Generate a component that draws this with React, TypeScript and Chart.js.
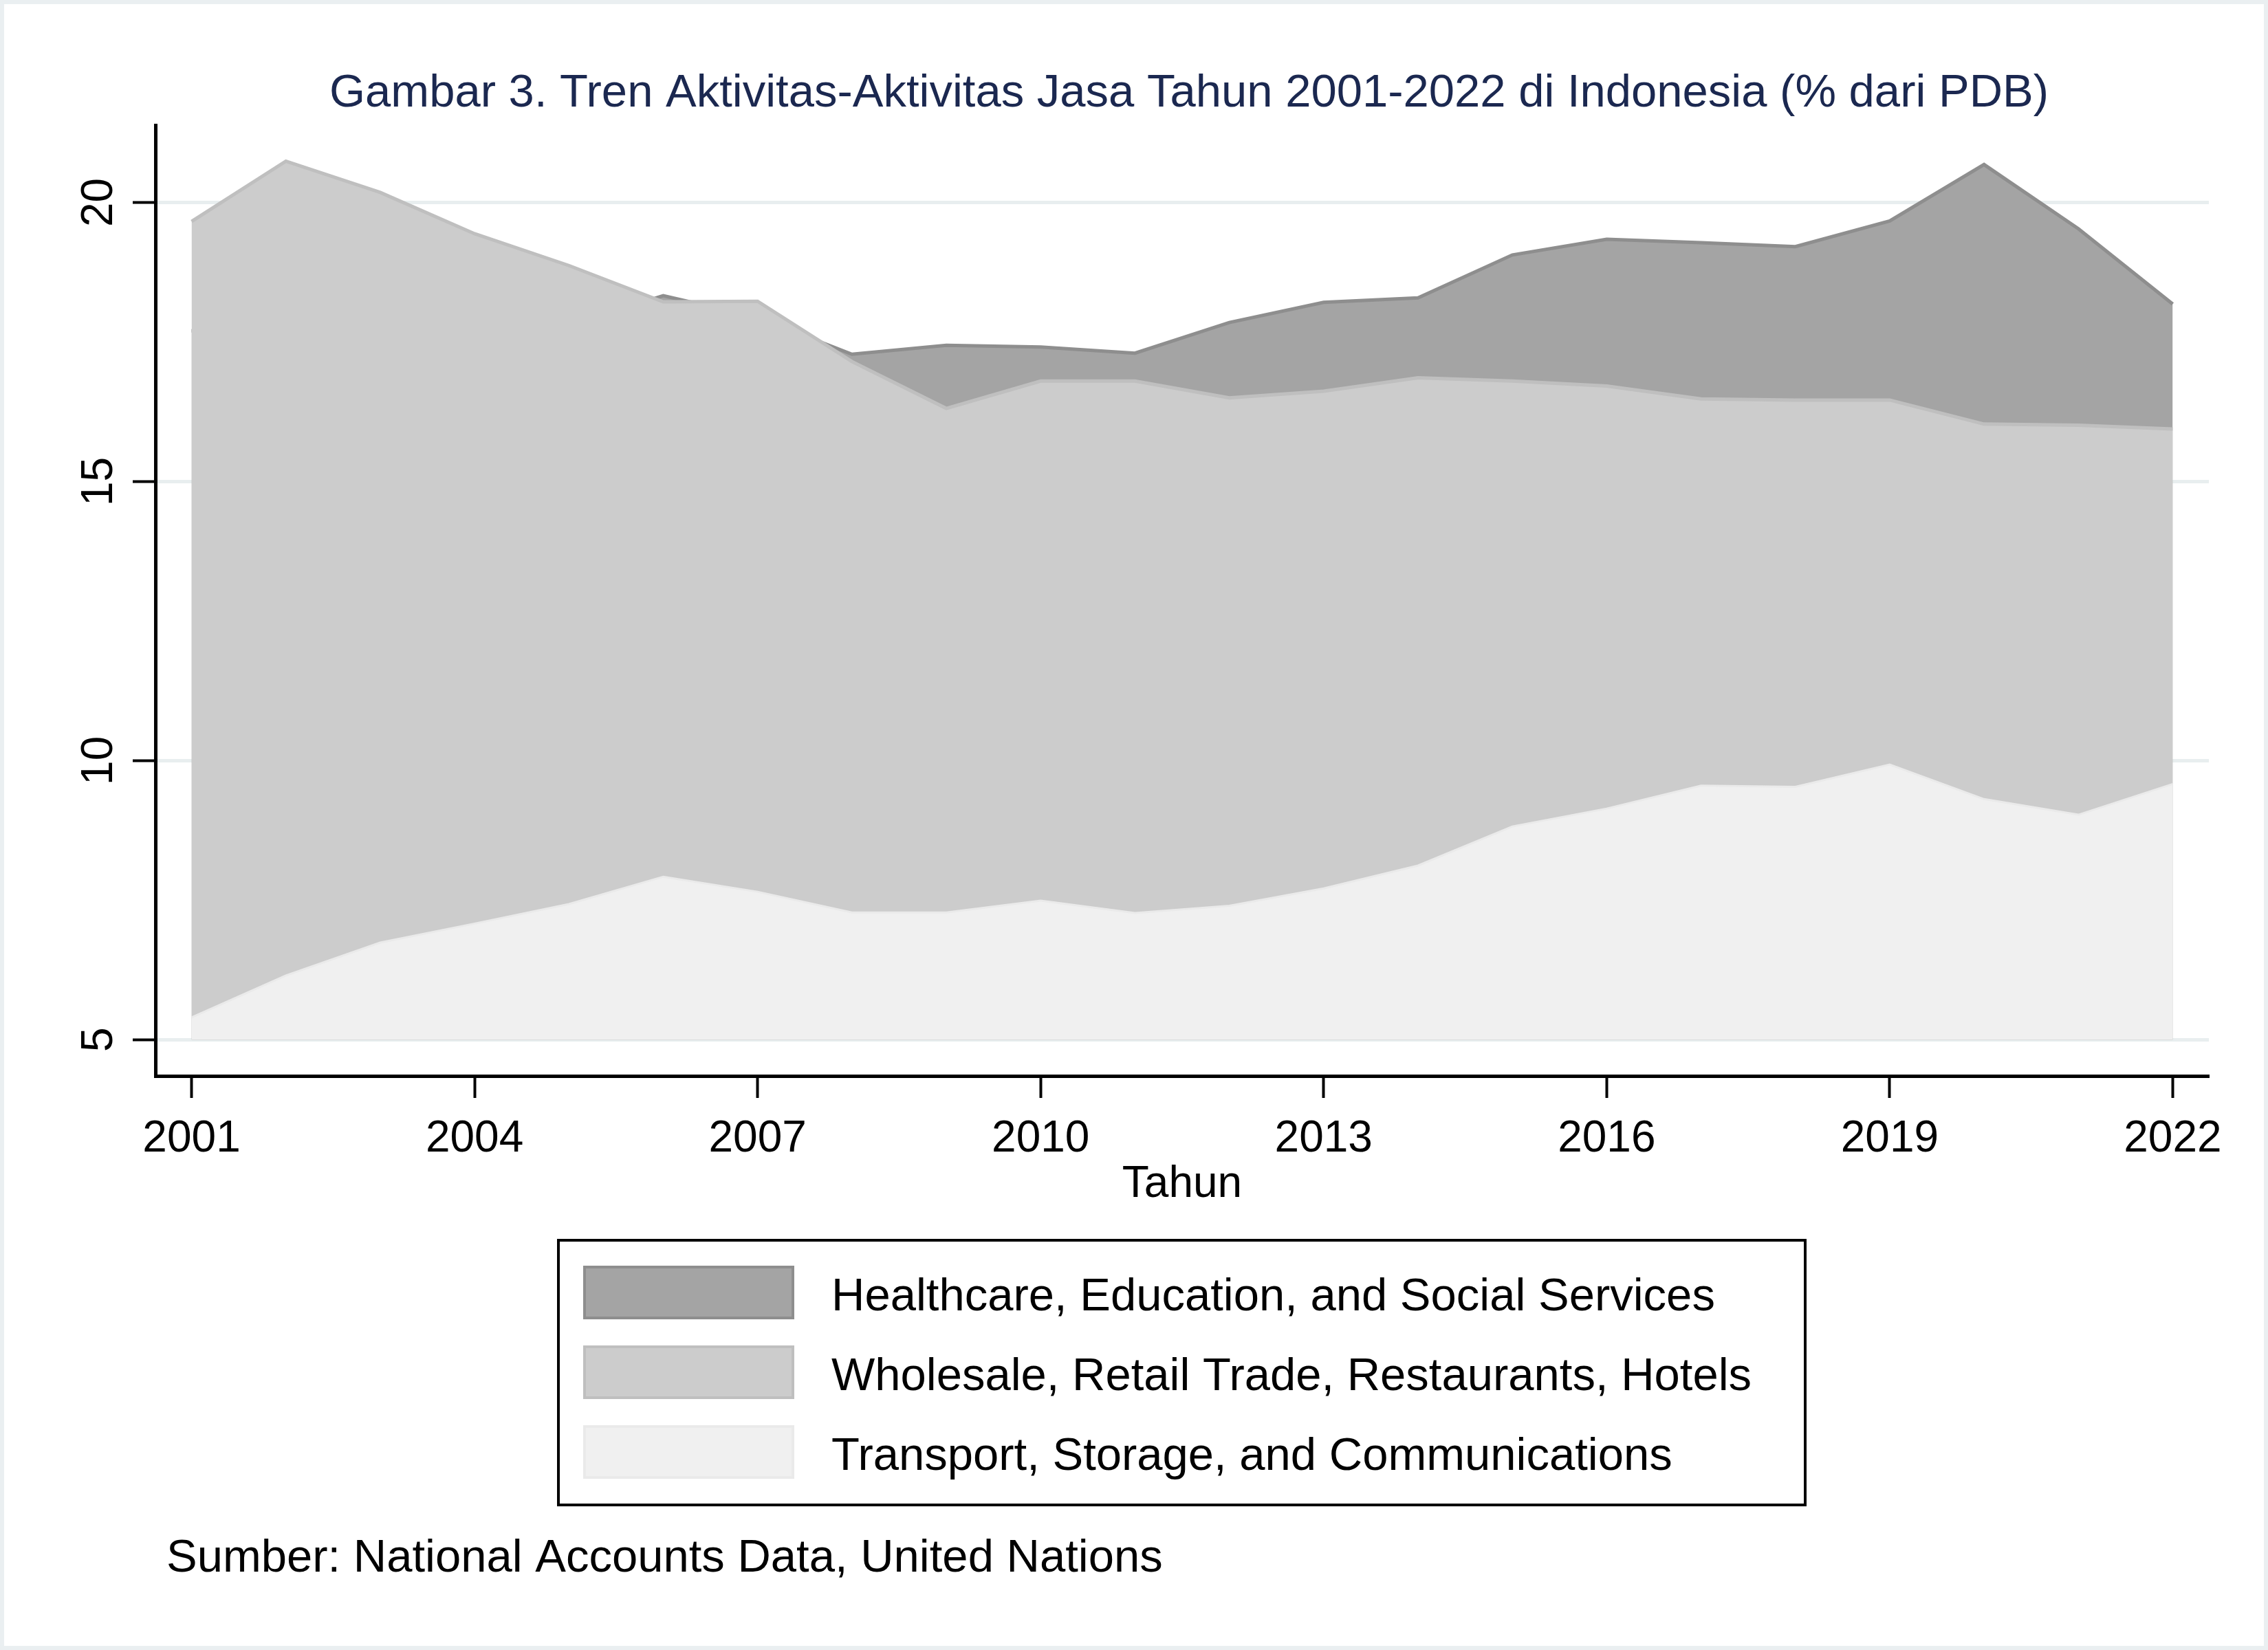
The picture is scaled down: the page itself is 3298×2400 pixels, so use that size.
import React, { useEffect, useRef } from "react";
import { Chart, registerables } from "chart.js";

Chart.register(...registerables);

const W = 3298;
const H = 2400;
const FONT = "'Liberation Sans', Arial, Helvetica, sans-serif";

const years = [2001, 2002, 2003, 2004, 2005, 2006, 2007, 2008, 2009, 2010, 2011, 2012, 2013, 2014, 2015, 2016, 2017, 2018, 2019, 2020, 2021, 2022];
const healthcare = [17.7, 17.8, 17.8, 17.9, 17.8, 18.33, 17.94, 17.28, 17.44, 17.41, 17.3, 17.85, 18.21, 18.29, 19.06, 19.34, 19.28, 19.21, 19.67, 20.68, 19.53, 18.18];
const wholesale = [19.66, 20.74, 20.18, 19.44, 18.87, 18.22, 18.23, 17.15, 16.31, 16.8, 16.8, 16.5, 16.62, 16.86, 16.8, 16.71, 16.48, 16.46, 16.46, 16.03, 16.01, 15.94];
const transport = [5.4, 6.15, 6.74, 7.08, 7.43, 7.92, 7.65, 7.28, 7.28, 7.49, 7.27, 7.4, 7.71, 8.12, 8.82, 9.14, 9.55, 9.53, 9.93, 9.31, 9.03, 9.58];

const seriesLabels = [
  "Healthcare, Education, and Social Services",
  "Wholesale, Retail Trade, Restaurants, Hotels",
  "Transport, Storage, and Communications",
];
const xTicks = [2001, 2004, 2007, 2010, 2013, 2016, 2019, 2022];
const yTicks = [5, 10, 15, 20];
const titleText = "Gambar 3. Tren Aktivitas-Aktivitas Jasa Tahun 2001-2022 di Indonesia (% dari PDB)";
const xTitle = "Tahun";
const noteText = "Sumber: National Accounts Data, United Nations";

const toPoints = (arr: number[]) => years.map((yr, i) => ({ x: yr, y: arr[i] }));

const decor = {
  id: "decor",
  beforeDraw(chart: any) {
    const ctx = chart.ctx;
    ctx.save();
    ctx.fillStyle = "#EAEFF1";
    ctx.fillRect(0, 0, W, H);
    ctx.fillStyle = "#ffffff";
    ctx.fillRect(6, 6, W - 12, H - 12);
    ctx.restore();
  },
  afterDraw(chart: any) {
    const ctx = chart.ctx;
    const xs = chart.scales.x;
    const ys = chart.scales.y;
    const ca = chart.chartArea;
    ctx.save();
    ctx.textBaseline = "alphabetic";

    // Title
    ctx.font = `67px ${FONT}`;
    ctx.fillStyle = "#1b2850";
    ctx.textAlign = "center";
    ctx.fillText(titleText, 1729, 155);

    // X tick labels
    ctx.fillStyle = "#000000";
    ctx.font = `64px ${FONT}`;
    ctx.textAlign = "center";
    xTicks.forEach((v) => {
      ctx.fillText(String(v), xs.getPixelForValue(v), ca.bottom + 110);
    });

    // X axis title
    ctx.fillText(xTitle, (ca.left + ca.right) / 2, ca.bottom + 176);

    // Y tick labels (rotated)
    yTicks.forEach((v) => {
      const y = ys.getPixelForValue(v);
      ctx.save();
      ctx.translate(ca.left - 63, y);
      ctx.rotate(-Math.PI / 2);
      ctx.textAlign = "center";
      ctx.fillText(String(v), 0, 0);
      ctx.restore();
    });

    // Legend
    const lx = 812, ly = 1804, lw = 1813, lh = 385;
    ctx.lineWidth = 4;
    ctx.strokeStyle = "#000000";
    ctx.strokeRect(lx, ly, lw, lh);
    const rowTops = [1841, 1957, 2073];
    ctx.font = `67px ${FONT}`;
    ctx.textAlign = "left";
    chart.data.datasets.forEach((ds: any, i: number) => {
      const top = rowTops[i];
      ctx.fillStyle = ds.backgroundColor;
      ctx.fillRect(848, top, 307, 78);
      ctx.lineWidth = 4;
      ctx.strokeStyle = ds.borderColor;
      ctx.strokeRect(850, top + 2, 303, 74);
      ctx.fillStyle = "#000000";
      ctx.fillText(ds.label, 1209, top + 65);
    });

    // Note
    ctx.font = `67px ${FONT}`;
    ctx.textAlign = "left";
    ctx.fillStyle = "#000000";
    ctx.fillText(noteText, 242, 2286);

    ctx.restore();
  },
};

export default function App() {
  const canvasRef = useRef<HTMLCanvasElement | null>(null);

  useEffect(() => {
    if (!canvasRef.current) return;
    const chart = new Chart(canvasRef.current, {
      type: "line",
      data: {
        datasets: [
          {
            label: seriesLabels[0],
            data: toPoints(healthcare),
            backgroundColor: "#a4a4a4",
            borderColor: "#8e8e8e",
            borderWidth: 5,
            fill: { value: 5 },
            pointRadius: 0,
            tension: 0,
            order: 3,
          },
          {
            label: seriesLabels[1],
            data: toPoints(wholesale),
            backgroundColor: "#cccccc",
            borderColor: "#bfbfbf",
            borderWidth: 5,
            fill: { value: 5 },
            pointRadius: 0,
            tension: 0,
            order: 2,
          },
          {
            label: seriesLabels[2],
            data: toPoints(transport),
            backgroundColor: "#f0f0f0",
            borderColor: "#eaeaea",
            borderWidth: 3,
            fill: { value: 5 },
            pointRadius: 0,
            tension: 0,
            order: 1,
          },
        ],
      },
      options: {
        responsive: false,
        devicePixelRatio: 1,
        animation: false,
        layout: { padding: { left: 126, top: 182, right: 86, bottom: 735 } },
        plugins: {
          legend: { display: false },
          title: { display: false },
          tooltip: { enabled: false },
        },
        scales: {
          x: {
            type: "linear",
            min: 2000.617,
            max: 2022.383,
            afterBuildTicks: (s: any) => {
              s.ticks = xTicks.map((v) => ({ value: v }));
            },
            afterFit: (s: any) => {
              s.height = 100;
            },
            ticks: { display: false },
            grid: {
              drawOnChartArea: false,
              drawTicks: true,
              tickLength: 32,
              tickWidth: 4,
              tickColor: "#000000",
            },
            border: { display: true, color: "#000000", width: 5 },
          },
          y: {
            type: "linear",
            min: 4.35,
            max: 21.386,
            afterBuildTicks: (s: any) => {
              s.ticks = yTicks.map((v) => ({ value: v }));
            },
            afterFit: (s: any) => {
              s.width = 100;
            },
            ticks: { display: false },
            grid: {
              color: "#E8EEEF",
              lineWidth: 5,
              drawTicks: true,
              tickLength: 33,
              tickWidth: 4,
              tickColor: "#000000",
            },
            border: { display: true, color: "#000000", width: 5 },
          },
        },
      },
      plugins: [decor],
    } as any);
    return () => chart.destroy();
  }, []);

  return (
    <div style={{ position: "absolute", left: 0, top: 0, width: W, height: H }}>
      <canvas ref={canvasRef} width={W} height={H} style={{ width: W, height: H, display: "block" }} />
    </div>
  );
}
